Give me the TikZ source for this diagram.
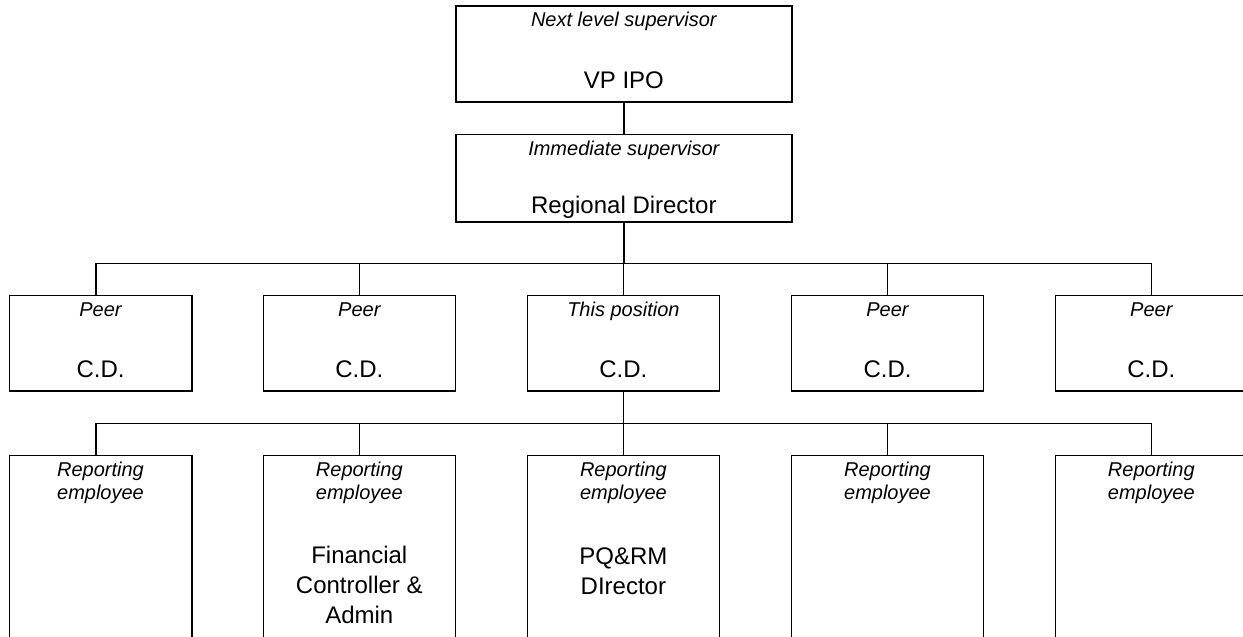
\documentclass[tikz,border=0pt]{standalone}
\usepackage{fontspec}
\setmainfont{Liberation Sans}
\usetikzlibrary{calc}
\begin{document}
\begin{tikzpicture}[x=0.5pt,y=-0.5pt,
  box/.style={draw,line width=0.8pt,inner sep=0pt,outer sep=0pt},
  link/.style={line width=0.8pt},
  it/.style={font=\fontsize{10}{11.5}\selectfont\itshape,inner sep=0pt,anchor=base,align=center},
  rg/.style={font=\fontsize{12}{15}\selectfont,inner sep=0pt,anchor=base,align=center}]
\useasboundingbox (0,0) rectangle (1243,637);

% boxes
\node[box,minimum width=167.85pt,minimum height=47.85pt] (top) at (623.85,53.85) {};
\node[box,minimum width=167.85pt,minimum height=43.7pt] (sec) at (623.85,178) {};

\node[box,minimum width=91.2pt,minimum height=47.85pt] (p1) at (100.5,343.15) {};
\node[box,minimum width=96pt,minimum height=47.85pt] (p2) at (359.3,343.15) {};
\node[box,minimum width=96pt,minimum height=47.85pt] (p3) at (623.4,343.15) {};
\node[box,minimum width=96pt,minimum height=47.85pt] (p4) at (887.5,343.15) {};
\node[box,minimum width=96pt,minimum height=47.85pt] (p5) at (1151.3,343.15) {};

\node[box,minimum width=91.2pt,minimum height=112.35pt] (r1) at (100.5,567.65) {};
\node[box,minimum width=96pt,minimum height=112.35pt] (r2) at (359.3,567.65) {};
\node[box,minimum width=96pt,minimum height=112.35pt] (r3) at (623.4,567.65) {};
\node[box,minimum width=96pt,minimum height=112.35pt] (r4) at (887.5,567.65) {};
\node[box,minimum width=96pt,minimum height=112.35pt] (r5) at (1151.3,567.65) {};

% connectors
\coordinate (busL) at (95.7,263.3);
\coordinate (busR) at (1151.3,263.3);
\coordinate (lbL) at (95.7,423.3);
\coordinate (lbR) at (1151.3,423.3);

\draw[link] (top.south) -- (sec.north);
\draw[link] (sec.south) -- (sec.south |- busL);
\draw[link] (busL) -- (busR);
\draw[link] (busL) -- (busL |- p1.north);
\draw[link] (p2.north) -- (p2.north |- busL);
\draw[link] (p3.north) -- (p3.north |- busL);
\draw[link] (p4.north) -- (p4.north |- busL);
\draw[link] (busR) -- (p5.north);

\draw[link] (p3.south) -- (p3.south |- lbL);
\draw[link] (lbL) -- (lbR);
\draw[link] (lbL) -- (lbL |- r1.north);
\draw[link] (r2.north) -- (r2.north |- lbL);
\draw[link] (r3.north) -- (r3.north |- lbL);
\draw[link] (r4.north) -- (r4.north |- lbL);
\draw[link] (lbR) -- (r5.north);

% texts
\node[it] (topa) at ($(top.north)+(0,20.7)$) {Next level supervisor};
\node[rg] (topb) at ($(top.north)+(0,82)$) {VP IPO};
\node[it] (seca) at ($(sec.north)+(0,20.7)$) {Immediate supervisor};
\node[rg] (secb) at ($(sec.north)+(0,78.7)$) {Regional Director};

\node[it] (p1a) at ($(p1.north)+(0,20.7)$) {Peer};
\node[rg] (p1b) at ($(p1.north)+(0,82)$) {C.D.};
\node[it] (p2a) at ($(p2.north)+(0,20.7)$) {Peer};
\node[rg] (p2b) at ($(p2.north)+(0,82)$) {C.D.};
\node[it] (p3a) at ($(p3.north)+(0,20.7)$) {This position};
\node[rg] (p3b) at ($(p3.north)+(0,82)$) {C.D.};
\node[it] (p4a) at ($(p4.north)+(0,20.7)$) {Peer};
\node[rg] (p4b) at ($(p4.north)+(0,82)$) {C.D.};
\node[it] (p5a) at ($(p5.north)+(0,20.7)$) {Peer};
\node[rg] (p5b) at ($(p5.north)+(0,82)$) {C.D.};

% multi-line nodes: base anchor sits on the last line
\node[it] (r1a) at ($(r1.north)+(0,43.7)$) {Reporting\\employee};
\node[it] (r2a) at ($(r2.north)+(0,43.7)$) {Reporting\\employee};
\node[rg] (r2b) at ($(r2.north)+(0,168)$) {Financial\\Controller \&\\Admin};
\node[it] (r3a) at ($(r3.north)+(0,43.7)$) {Reporting\\employee};
\node[rg] (r3b) at ($(r3.north)+(0,139)$) {PQ\&RM\\DIrector};
\node[it] (r4a) at ($(r4.north)+(0,43.7)$) {Reporting\\employee};
\node[it] (r5a) at ($(r5.north)+(0,43.7)$) {Reporting\\employee};
\end{tikzpicture}
\end{document}
